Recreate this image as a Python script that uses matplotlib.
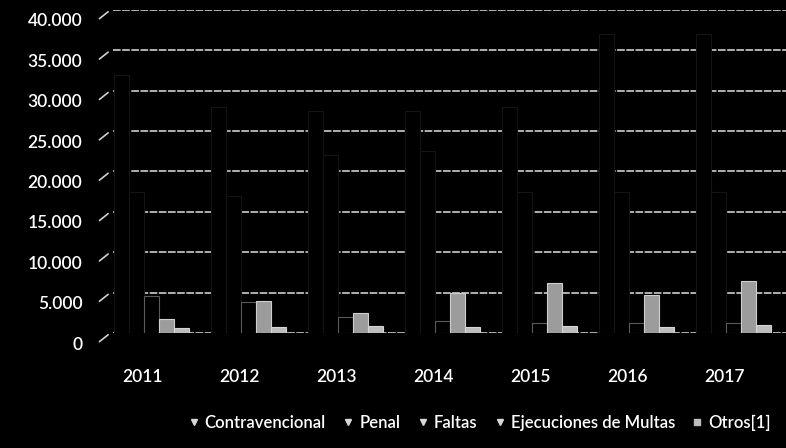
import matplotlib.pyplot as plt
import matplotlib.transforms as mtransforms
from matplotlib.lines import Line2D
import numpy as np

# values (3D column chart, dark columns hide the wall gridlines)
years = ['2011', '2012', '2013', '2014', '2015', '2016', '2017']
contravencional = [32000, 28000, 27500, 27500, 28000, 37000, 37000]
penal = [17500, 17000, 22000, 22500, 17500, 17500, 17500]
faltas = [4600, 3800, 2000, 1500, 1200, 1200, 1200]
ejecuciones = [1700, 4000, 2500, 5000, 6200, 4700, 6400]
otros = [600, 700, 900, 800, 900, 800, 1000]
series_names = ['Contravencional', 'Penal', 'Faltas', 'Ejecuciones de Multas', 'Otros[1]']
tick_vals = list(range(0, 40001, 5000))
tick_labels = ['0', '5.000', '10.000', '15.000', '20.000', '25.000', '30.000', '35.000', '40.000']

fig = plt.figure(figsize=(7.86, 4.48), dpi=100, facecolor='black')
ax = fig.add_axes([113 / 786, 115 / 448, (786 - 113) / 786, (333 - 10) / 448])
ax.set_facecolor('black')
ax.set_ylim(0, 40000)
ax.set_xlim(-0.40, 6.54)

x = np.arange(len(years))
w = 0.155
data = [contravencional, penal, faltas, ejecuciones, otros]
faces = ['black', 'black', 'black', '#9c9c9c', '#bdbdbd']
edges = ['#141414', '#141414', '#5a5a5a', '#cfcfcf', '#d5d5d5']
for i, vals in enumerate(data):
    ax.bar(x + (i - 2) * w, vals, w, color=faces[i], edgecolor=edges[i],
           linewidth=0.8, zorder=3)

# back wall gridlines
ax.set_yticks(tick_vals)
ax.set_yticklabels(tick_labels)
ax.yaxis.grid(True, color='#e0e0e0', lw=1.1, ls=(0, (5, 1)), zorder=1)
ax.set_axisbelow(True)
for s in ax.spines.values():
    s.set_visible(False)

font = 'Lato'
ax.tick_params(axis='y', length=0, pad=22, labelsize=12.5, labelcolor='white')
ax.tick_params(axis='x', length=0, pad=26, labelsize=12.5, labelcolor='white')
ax.set_xticks(x)
ax.set_xticklabels(years)
for lab in ax.get_yticklabels():
    lab.set_fontfamily(font)
    lab.set_fontweight('semibold')
    lab.set_transform(lab.get_transform() + mtransforms.ScaledTranslation(0, -0.10, fig.dpi_scale_trans))
for lab in ax.get_xticklabels():
    lab.set_fontfamily(font)
    lab.set_fontweight('semibold')
    lab.set_transform(lab.get_transform() + mtransforms.ScaledTranslation(-0.09, 0, fig.dpi_scale_trans))

# depth marks on the left side wall
trans = mtransforms.blended_transform_factory(ax.transAxes, ax.transData)
for v in tick_vals:
    ax.annotate('', xy=(-0.004, v), xycoords=trans, xytext=(-9.4, -7.5),
                textcoords='offset points', annotation_clip=False,
                arrowprops=dict(arrowstyle='-', color='#d0d0d0', lw=1.2))

handles = [Line2D([], [], marker='v', ls='', color='#d8d8d8', markersize=4) for _ in range(4)]
handles.append(Line2D([], [], marker='s', ls='', color='#bdbdbd', markersize=5))
leg = fig.legend(handles, series_names, loc='center', bbox_to_anchor=(0.610, 0.056),
                 ncol=5, frameon=False, handlelength=0.7, handletextpad=0.3,
                 columnspacing=1.0, prop={'family': font, 'size': 12, 'weight': 'semibold'})
for t in leg.get_texts():
    t.set_color('white')

fig.savefig('out.png', dpi=100, facecolor='black')
